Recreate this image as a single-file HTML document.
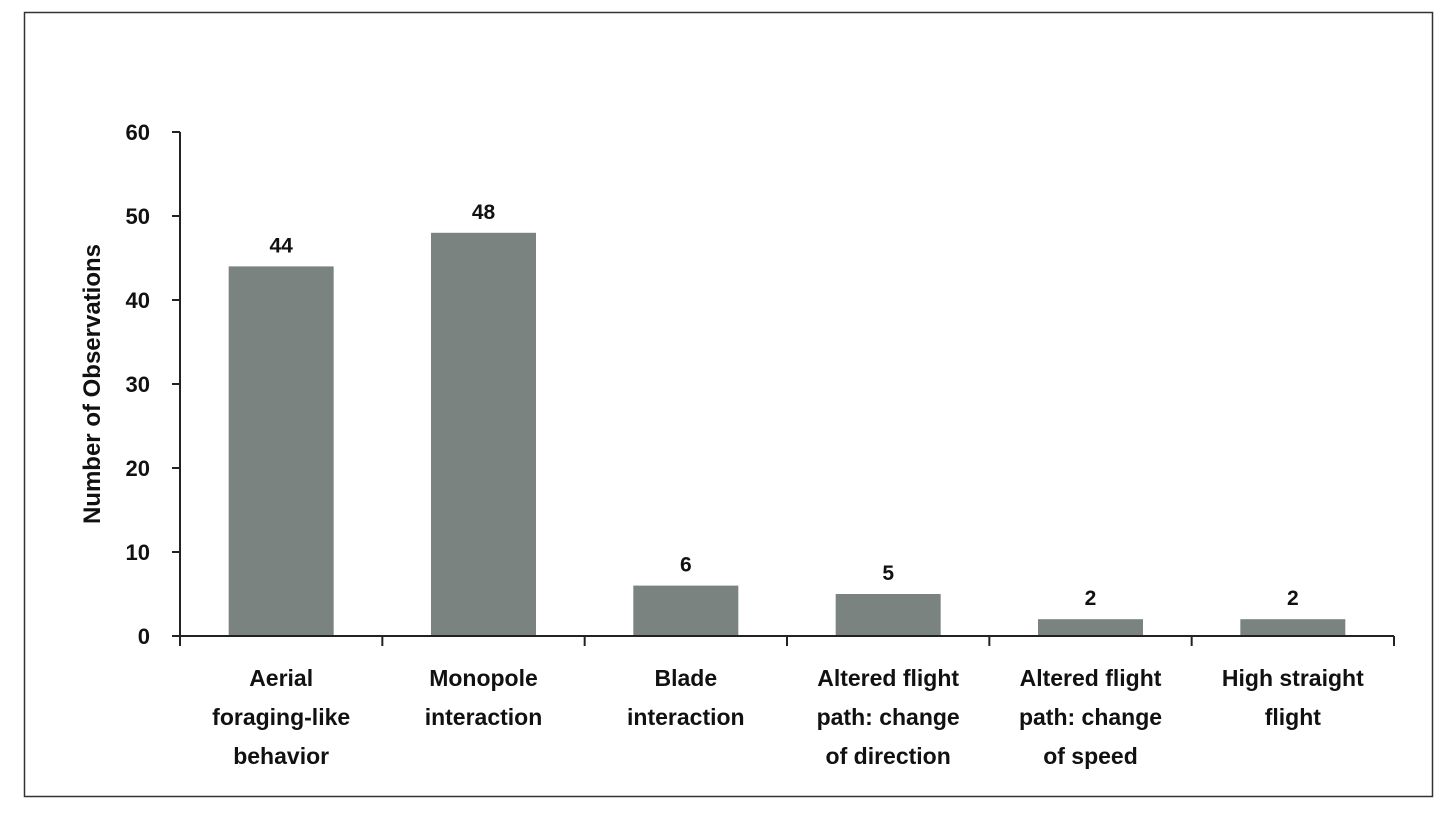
<!DOCTYPE html>
<html><head><meta charset="utf-8"><style>
html,body{margin:0;padding:0;background:#fff;}
svg{display:block;font-family:"Liberation Sans",sans-serif;}
</style></head><body>
<svg id="chart" width="1456" height="822">
<rect x="24.5" y="12.5" width="1408" height="784" fill="#fff" stroke="#333" stroke-width="1.5"/>
<g id="plot"></g>
<text transform="translate(100,384) rotate(-90)" text-anchor="middle" font-size="24" font-weight="bold" fill="#111">Number of Observations</text>
</svg>
<script>
const categories = [["Aerial","foraging-like","behavior"],["Monopole","interaction"],["Blade","interaction"],["Altered flight","path: change","of direction"],["Altered flight","path: change","of speed"],["High straight","flight"]];
const values = [44,48,6,5,2,2];
const yTicks = [0,10,20,30,40,50,60];
const NS="http://www.w3.org/2000/svg";
const g=document.getElementById('plot');
const x0=180,x1=1394,y0=636,y1=132,yMax=60;
const y=v=>y0-(v/yMax)*(y0-y1);
const band=(x1-x0)/categories.length;
const bx=i=>x0+band*i;
function mk(t,a,p){const e=document.createElementNS(NS,t);for(const k in a)e.setAttribute(k,a[k]);(p||g).appendChild(e);return e;}
values.forEach((v,i)=>{
  const r=mk('rect',{x:bx(i)+band/2-52.5,y:y(v),width:105,height:y0-y(v),fill:'#7a8380'});
  
  
  const t=mk('text',{x:bx(i)+band/2,y:y(v)-14,'text-anchor':'middle','font-size':21,'font-weight':'bold',fill:'#111'});
  t.textContent=v;
  
  
  const lab=mk('text',{'text-anchor':'middle','font-size':23,'font-weight':'bold',fill:'#111'});
  
  
  categories[i].forEach((s,j)=>{const ts=mk('tspan',{x:bx(i)+band/2,y:686+j*39},lab);ts.textContent=s;});
});
yTicks.forEach(v=>{
  const l=mk('line',{x1:172,x2:x0,y1:y(v),y2:y(v),stroke:'#222','stroke-width':2});
  
  
  const t=mk('text',{x:150,y:y(v)+8,'text-anchor':'end','font-size':22,'font-weight':'bold',fill:'#111'});
  t.textContent=v;
  
  
});
for(let i=0;i<=categories.length;i++){
  const l=mk('line',{x1:bx(i),x2:bx(i),y1:y0,y2:y0+10,stroke:'#222','stroke-width':2});
  
  
}
const ya=mk('line',{x1:x0,x2:x0,y1:y1,y2:y0,stroke:'#222','stroke-width':2});


const xa=mk('line',{x1:x0-8,x2:x1,y1:y0,y2:y0,stroke:'#222','stroke-width':2});


</script>
</body></html>
